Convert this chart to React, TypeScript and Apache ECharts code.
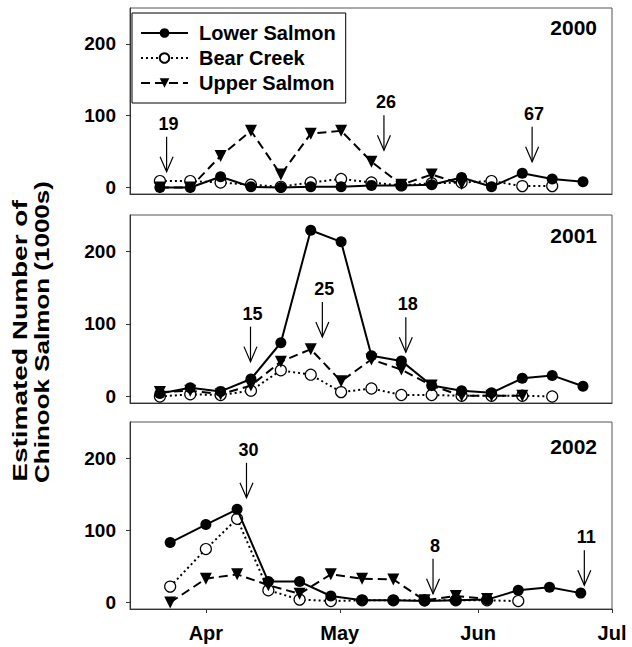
import React, { useEffect, useRef } from "react";
import * as echarts from "echarts";

const FONT = '"Liberation Sans", Arial, Helvetica, sans-serif';

// x positions in days relative to April 1
const daysA = [-10.3, -3.5, 3.3, 10.1, 16.8, 23.5, 30.3, 37.1, 43.8, 50.6, 57.3, 64.0, 70.9, 77.6, 84.5];
const daysB = [-8, 0, 7, 14, 21, 28, 35, 42, 49, 56, 63, 70, 77, 84];

const monthTicks = [0, 30, 61, 91];
const monthLabels = ["Apr", "May", "Jun", "Jul"];
const yTicks = [0, 100, 200];
const years = ["2000", "2001", "2002"];

// 2000
const lower2000 = [0, 0, 15, 1, 0, 1, 1, 3, 3, 4, 14, 1, 20, 12, 8];
const bear2000 = [9, 9, 7, 4, 1, 7, 12, 7, 3, 6, 7, 9, 2, 2];
const upper2000 = [0, 0, 44, 79, 18, 75, 79, 36, 4, 18, 5];
// 2001
const lower2001 = [4, 12, 7, 24, 74, 229, 213, 56, 49, 15, 8, 5, 25, 29, 14];
const bear2001 = [0, 3, 2, 8, 36, 30, 6, 11, 2, 2, 1, 1, 1, 0];
const upper2001 = [6, 8, 3, 15, 48, 65, 21, 51, 37, 15, 1, 1, 1];
// 2002
const lower2002 = [83, 108, 129, 29, 29, 9, 3, 3, 2, 3, 4, 17, 21, 13];
const bear2002 = [22, 74, 116, 17, 4, 2, 3, 3, 3, 3, 3, 2];
const upper2002 = [0, 33, 39, 24, 12, 39, 33, 32, 3, 9, 5];

// arrow annotations: x (days), arrow tip value, label
const arrowX2000 = [-8.8, 39.9, 73.1];
const arrowTip2000 = [22, 52, 36];
const arrowLbl2000 = ["19", "26", "67"];
const arrowX2001 = [10.0, 26.1, 44.8];
const arrowTip2001 = [48, 82, 61];
const arrowLbl2001 = ["15", "25", "18"];
const arrowX2002 = [9.1, 50.9, 84.8];
const arrowTip2002 = [145, 12, 24];
const arrowLbl2002 = ["30", "8", "11"];

const seriesNames = ["Lower Salmon", "Bear Creek", "Upper Salmon"];

export default function App() {
  const ref = useRef<HTMLDivElement>(null);
  useEffect(() => {
    if (!ref.current) return;
    const chart = echarts.init(ref.current, null, { renderer: "svg" });

    const grids = [
      { left: 130, top: 8, width: 482, height: 186 },
      { left: 130, top: 215, width: 482, height: 188 },
      { left: 130, top: 422, width: 482, height: 187 },
    ];

    const panels = [
      { days: daysA, lower: lower2000, bear: bear2000, upper: upper2000, ax: arrowX2000, at: arrowTip2000, al: arrowLbl2000 },
      { days: daysA, lower: lower2001, bear: bear2001, upper: upper2001, ax: arrowX2001, at: arrowTip2001, al: arrowLbl2001 },
      { days: daysB, lower: lower2002, bear: bear2002, upper: upper2002, ax: arrowX2002, at: arrowTip2002, al: arrowLbl2002 },
    ];

    const zip = (xs: number[], ys: number[]) => ys.map((v, i) => [xs[i], v]);

    const series: any[] = [];
    panels.forEach((p, i) => {
      series.push({
        name: "Bear Creek",
        type: "line",
        xAxisIndex: i,
        yAxisIndex: i,
        data: zip(p.days, p.bear),
        symbol: "circle",
        symbolSize: 11,
        itemStyle: { color: "#fff", borderColor: "#000", borderWidth: 1.2 },
        lineStyle: { color: "#000", width: 2, type: [2, 3] },
        z: 2,
      });
      series.push({
        name: "Upper Salmon",
        type: "line",
        xAxisIndex: i,
        yAxisIndex: i,
        data: zip(p.days, p.upper),
        symbol: "triangle",
        symbolRotate: 180,
        symbolSize: 12,
        itemStyle: { color: "#000" },
        lineStyle: { color: "#000", width: 2, type: [9, 5] },
        z: 3,
      });
      series.push({
        name: "Lower Salmon",
        type: "line",
        xAxisIndex: i,
        yAxisIndex: i,
        data: zip(p.days, p.lower),
        symbol: "circle",
        symbolSize: 11,
        itemStyle: { color: "#000" },
        lineStyle: { color: "#000", width: 2 },
        z: 4,
      });
      const labels = p.al;
      series.push({
        type: "custom",
        xAxisIndex: i,
        yAxisIndex: i,
        silent: true,
        clip: false,
        z: 6,
        data: zip(p.ax, p.at),
        renderItem: (params: any, api: any) => {
          const pt = api.coord([api.value(0), api.value(1)]);
          const x = pt[0];
          const y = pt[1];
          return {
            type: "group",
            children: [
              { type: "line", shape: { x1: x, y1: y - 35, x2: x, y2: y }, style: { stroke: "#000", lineWidth: 1.2 } },
              {
                type: "polyline",
                shape: { points: [[x - 6.5, y - 15], [x, y], [x + 6.5, y - 15]] },
                style: { stroke: "#000", fill: null, lineWidth: 1.2 },
              },
              {
                type: "text",
                x: x + 2,
                y: y - 48,
                style: {
                  text: labels[params.dataIndex],
                  fontSize: 18,
                  fontWeight: "bold",
                  fontFamily: FONT,
                  fill: "#000",
                  align: "center",
                  verticalAlign: "middle",
                },
              },
            ],
          };
        },
      });
    });

    const option: any = {
      animation: false,
      backgroundColor: "#fff",
      title: years.map((y, i) => ({
        text: y,
        right: 35,
        top: [17, 225, 436][i],
        padding: 0,
        textStyle: { fontSize: 21, fontWeight: "bold", fontFamily: FONT, color: "#000" },
      })),
      legend: {
        data: seriesNames,
        orient: "vertical",
        left: 132,
        top: 13,
        padding: [10, 10, 10, 8],
        itemGap: 5,
        itemWidth: 47,
        itemHeight: 12,
        borderColor: "#000",
        borderWidth: 1,
        backgroundColor: "#fff",
        selectedMode: false,
        textStyle: {
          fontSize: 20,
          fontWeight: "bold",
          fontFamily: FONT,
          color: "#000",
          lineHeight: 20,
          padding: [0, 0, 0, 6],
        },
      },
      grid: grids.map((g) => ({ ...g, show: true, borderColor: "#555", borderWidth: 1, backgroundColor: "transparent" })),
      xAxis: grids.map((g, i) => ({
        type: "value",
        gridIndex: i,
        min: -17,
        max: 91,
        axisLine: { show: true, onZero: false, lineStyle: { color: "#333", width: 1 } },
        axisTick: {
          show: i === 2,
          customValues: monthTicks,
          length: 4,
          lineStyle: { color: "#333" },
        },
        axisLabel: {
          show: i === 2,
          customValues: monthTicks,
          margin: 14,
          fontSize: 20,
          fontWeight: "bold",
          fontFamily: FONT,
          color: "#000",
          formatter: (v: number) => {
            const k = monthTicks.indexOf(v);
            return k >= 0 ? monthLabels[k] : "";
          },
        },
        splitLine: { show: false },
      })),
      yAxis: grids.map((g, i) => ({
        type: "value",
        gridIndex: i,
        min: -9,
        max: 250,
        axisLine: { show: true, onZero: false, lineStyle: { color: "#333", width: 1 } },
        axisTick: { show: true, customValues: yTicks, length: 4, lineStyle: { color: "#333" } },
        axisLabel: {
          customValues: yTicks,
          margin: 14,
          fontSize: 19,
          fontWeight: "bold",
          fontFamily: FONT,
          color: "#000",
        },
        splitLine: { show: false },
      })),
      graphic: [
        {
          type: "text",
          x: 20,
          y: 341,
          rotation: Math.PI / 2,
          scaleX: 1.4,
          style: {
            text: "Estimated Number of",
            fontSize: 20,
            fontWeight: "bold",
            fontFamily: FONT,
            fill: "#000",
            align: "center",
            verticalAlign: "middle",
          },
        },
        {
          type: "text",
          x: 42,
          y: 332,
          rotation: Math.PI / 2,
          scaleX: 1.3,
          style: {
            text: "Chinook Salmon (1000s)",
            fontSize: 20,
            fontWeight: "bold",
            fontFamily: FONT,
            fill: "#000",
            align: "center",
            verticalAlign: "middle",
          },
        },
      ],
      series,
    };

    chart.setOption(option);
    return () => chart.dispose();
  }, []);

  return <div ref={ref} style={{ position: "fixed", left: 0, top: 0, width: 632, height: 647 }} />;
}
